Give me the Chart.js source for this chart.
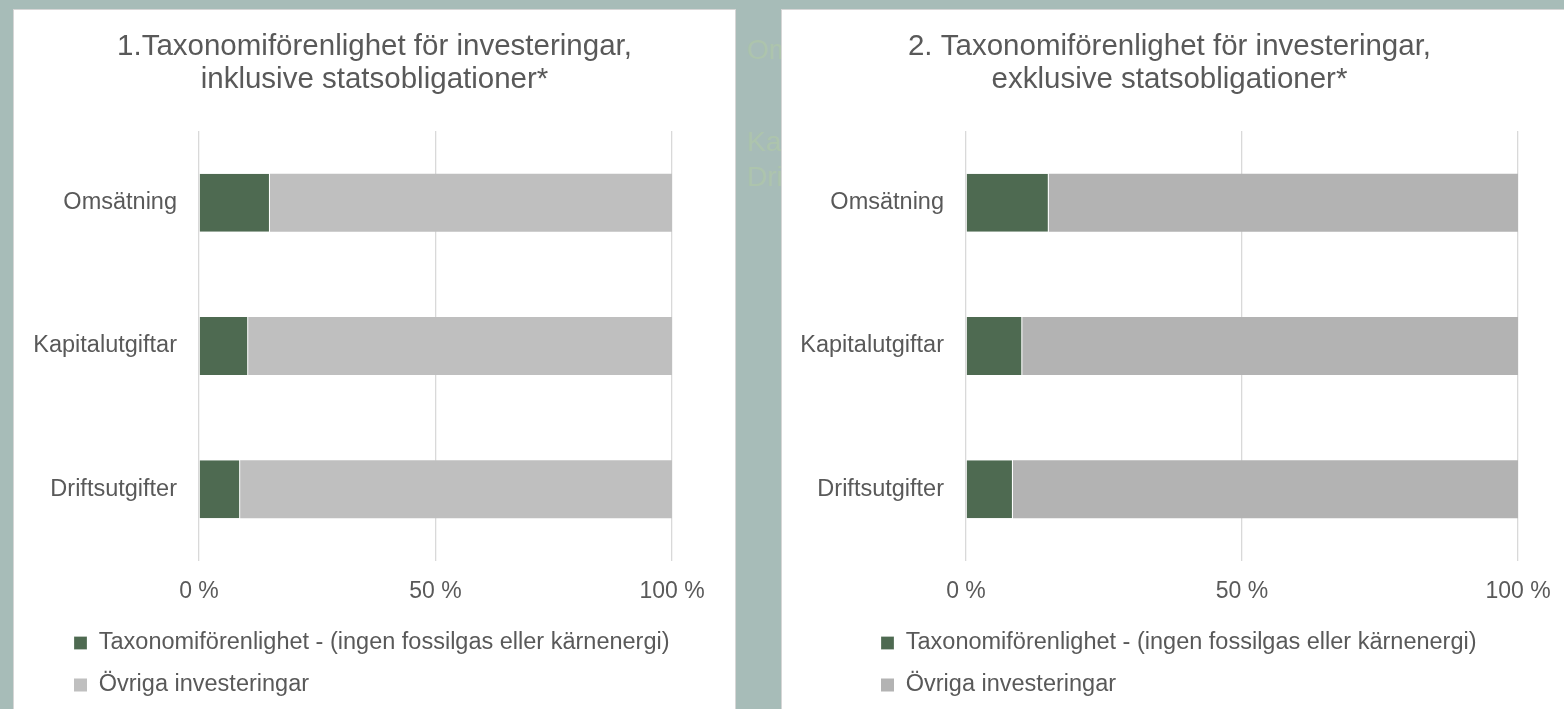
<!DOCTYPE html>
<html><head><meta charset="utf-8">
<script src="https://cdn.jsdelivr.net/npm/chart.js@4.4.1/dist/chart.umd.min.js"></script>
<style>
html,body{margin:0;padding:0;width:1564px;height:709px;overflow:hidden;background:#a7bcb8;font-family:'Liberation Sans',Arial,sans-serif;}
.panel{position:absolute;background:#fff;border:1px solid #d6d6d6;box-sizing:border-box;}
#p1{left:13px;top:9px;width:723px;height:720px;}
#p2{left:781px;top:9px;width:820px;height:720px;}
.ghost{position:absolute;left:747px;font-size:28px;line-height:28px;color:#adc4ad;white-space:nowrap;}
canvas{position:absolute;left:0;top:0;}
</style></head><body>
<div class="ghost" style="top:36px">Omsätning</div>
<div class="ghost" style="top:128px">Kapitalutgiftar</div>
<div class="ghost" style="top:163px">Driftsutgifter</div>
<div class="panel" id="p1"><canvas id="c1" width="721" height="699"></canvas></div>
<div class="panel" id="p2"><canvas id="c2" width="800" height="699"></canvas></div>
<script>
const categories = ['Omsätning', 'Kapitalutgiftar', 'Driftsutgifter'];
const legendLabels = ['Taxonomiförenlighet - (ingen fossilgas eller kärnenergi)', 'Övriga investeringar'];
const alignedInkl = [15.0, 10.4, 8.7];
const otherInkl = [85.0, 89.6, 91.3];
const alignedExkl = [15.0, 10.2, 8.5];
const otherExkl = [85.0, 89.8, 91.5];
const xTickValues = [0, 50, 100];
const xTickLabels = ['0 %', '50 %', '100 %'];
const title1 = ['1.Taxonomiförenlighet för investeringar,', 'inklusive statsobligationer*'];
const title2 = ['2. Taxonomiförenlighet för investeringar,', 'exklusive statsobligationer*'];

const FONT = "'Liberation Sans', Arial, sans-serif";
const TEXT = '#595959';
const GREEN = '#4e6a51';

function placeBlocks(legendLeft, titleRight) {
  return {
    id: 'placeBlocks',
    afterLayout(chart) {
      if (chart.legend) chart.legend.left = legendLeft;
      if (chart.titleBlock) { chart.titleBlock.left = 0; chart.titleBlock.right = titleRight; }
    }
  };
}

function makeChart(id, title, aligned, other, grayColor, padRight, yWidth, legendLeft, titleRight) {
  return new Chart(document.getElementById(id), {
    type: 'bar',
    data: {
      labels: categories,
      datasets: [
        { label: legendLabels[0], data: aligned, backgroundColor: GREEN, borderColor: '#ffffff',
          borderWidth: { top: 0, bottom: 0, left: 0, right: 1 }, borderSkipped: false,
          barPercentage: 0.405, categoryPercentage: 1 },
        { label: legendLabels[1], data: other, backgroundColor: grayColor, borderWidth: 0,
          barPercentage: 0.405, categoryPercentage: 1 }
      ]
    },
    plugins: [placeBlocks(legendLeft, titleRight)],
    options: {
      indexAxis: 'y',
      responsive: false,
      animation: false,
      layout: { padding: { left: 10, right: padRight, top: 0, bottom: 2.25 } },
      plugins: {
        title: { display: true, text: title, color: TEXT,
          font: { family: FONT, size: 29.5, weight: 'normal', lineHeight: 33 / 29.5 },
          padding: { top: 20.5, bottom: 34.5 } },
        legend: { position: 'bottom', align: 'start',
          labels: { boxWidth: 13, boxHeight: 13, padding: 18.5, color: TEXT,
            font: { family: FONT, size: 23.5 } } },
        tooltip: { enabled: false }
      },
      scales: {
        x: { stacked: true, min: 0, max: 100,
          afterBuildTicks: a => { a.ticks = xTickValues.map(v => ({ value: v })); },
          ticks: { color: TEXT, font: { family: FONT, size: 23 }, padding: 16.4, maxRotation: 0,
            callback: v => xTickLabels[xTickValues.indexOf(v)] },
          grid: { color: '#d9d9d9', lineWidth: 1.3, drawTicks: false },
          border: { display: false },
          afterFit: a => { a.height = 51.75; } },
        y: { stacked: true,
          ticks: { color: TEXT, font: { family: FONT, size: 23.5 }, padding: 22 },
          grid: { display: false, drawTicks: false },
          border: { display: false },
          afterFit: a => { a.width = yWidth; } }
      }
    }
  });
}

makeChart('c1', title1, alignedInkl, otherInkl, '#bfbfbf', 63, 175, 41.5, 721);
makeChart('c2', title2, alignedExkl, otherExkl, '#b3b3b3', 64, 174, 80.5, 775);
</script>
</body></html>
